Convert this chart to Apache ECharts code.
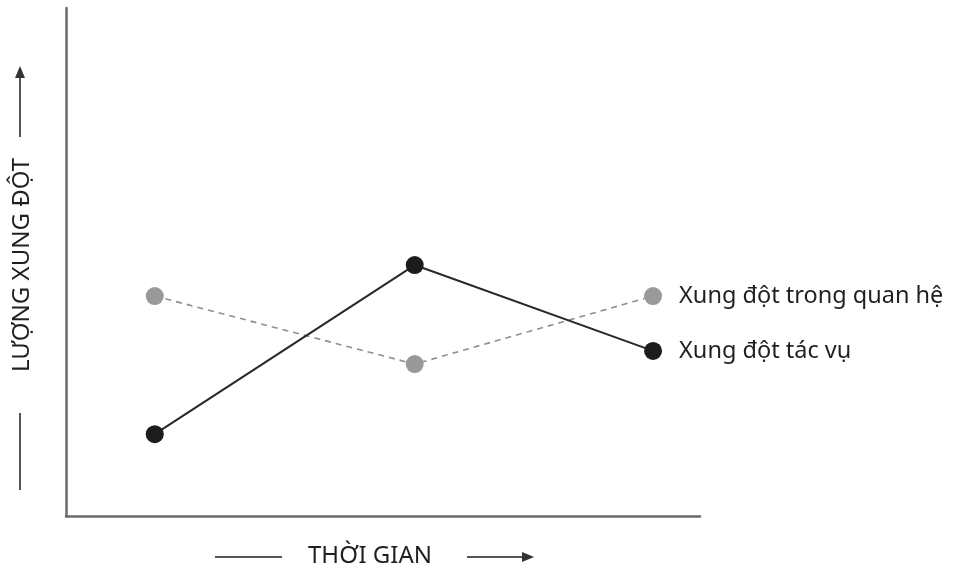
<!DOCTYPE html>
<html>
<head>
<meta charset="utf-8">
<script src="https://cdn.jsdelivr.net/npm/echarts@6/dist/echarts.min.js"></script>
<style>
html,body{margin:0;padding:0;background:#fff;}
#chart{width:953px;height:571px;}
</style>
</head>
<body>
<div id="chart"></div>
<script>
// Time positions (relative, 0-100 scale)
const timePoints = [14, 55, 92.6];
// Conflict amount (relative, 0-100 scale)
const relationshipConflict = [43.3, 29.9, 43.3];
const taskConflict = [16.1, 49.4, 32.5];
const seriesNames = ['Xung đột trong quan hệ', 'Xung đột tác vụ'];
const yAxisTitle = 'LƯỢNG XUNG ĐỘT';
const xAxisTitle = 'THỜI GIAN';

const FONT = 'Noto Sans';
const chart = echarts.init(document.getElementById('chart'), null, {renderer: 'canvas'});

function pairs(xs, ys, lastLabel) {
  return xs.map((x, i) => {
    const item = {value: [x, ys[i]]};
    if (i === xs.length - 1) {
      item.label = {show: true, formatter: lastLabel};
    }
    return item;
  });
}

const axisCommon = {
  min: 0, max: 100,
  axisLine: {show: true, onZero: false, lineStyle: {color: '#6a6a6a', width: 2.5}},
  axisTick: {show: false},
  axisLabel: {show: false},
  splitLine: {show: false}
};

chart.setOption({
  animation: false,
  backgroundColor: '#fff',
  grid: {left: 66, right: 253, top: 8, bottom: 55},
  xAxis: Object.assign({type: 'value'}, axisCommon),
  yAxis: Object.assign({type: 'value'}, axisCommon),
  series: [
    {
      name: seriesNames[0],
      type: 'line',
      data: pairs(timePoints, relationshipConflict, seriesNames[0]),
      symbol: 'circle',
      symbolSize: 18,
      itemStyle: {color: '#999999'},
      lineStyle: {color: '#8f8f8f', width: 1.6, type: [6, 5]},
      label: {position: 'right', distance: 17, color: '#231f20', fontFamily: FONT, fontSize: 23.5},
      z: 2
    },
    {
      name: seriesNames[1],
      type: 'line',
      data: pairs(timePoints, taskConflict, seriesNames[1]),
      symbol: 'circle',
      symbolSize: 18,
      itemStyle: {color: '#1e1b1c'},
      lineStyle: {color: '#2a2728', width: 2},
      label: {position: 'right', distance: 17, color: '#231f20', fontFamily: FONT, fontSize: 23.5},
      z: 3
    }
  ],
  graphic: [
    // Y axis title with arrow lines
    {type: 'text', x: 22, y: 265, rotation: Math.PI / 2,
     style: {text: yAxisTitle, fill: '#231f20', font: '24px "' + FONT + '"', align: 'center', verticalAlign: 'middle'}},
    {type: 'line', shape: {x1: 20, y1: 490, x2: 20, y2: 413}, style: {stroke: '#555', lineWidth: 2}},
    {type: 'line', shape: {x1: 20, y1: 137, x2: 20, y2: 74}, style: {stroke: '#555', lineWidth: 2}},
    {type: 'polygon', shape: {points: [[20, 66], [15, 78], [25, 78]]}, style: {fill: '#333'}},
    // X axis title with arrow lines
    {type: 'text', x: 370, y: 556,
     style: {text: xAxisTitle, fill: '#231f20', font: '24px "' + FONT + '"', align: 'center', verticalAlign: 'middle'}},
    {type: 'line', shape: {x1: 215, y1: 557, x2: 282, y2: 557}, style: {stroke: '#555', lineWidth: 2}},
    {type: 'line', shape: {x1: 467, y1: 557, x2: 526, y2: 557}, style: {stroke: '#555', lineWidth: 2}},
    {type: 'polygon', shape: {points: [[534, 557], [522, 552], [522, 562]]}, style: {fill: '#333'}}
  ]
});
</script>
</body>
</html>
